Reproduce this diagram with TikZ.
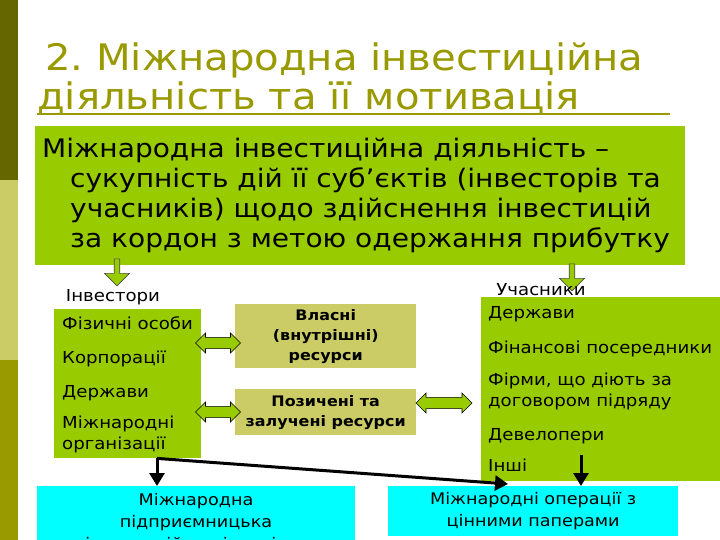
\documentclass[tikz,border=0pt]{standalone}
\usepackage{fontspec}
\setmainfont[FakeStretch=1.1]{DejaVu Sans}
\usepackage{tikz}
\usetikzlibrary{arrows.meta, positioning, calc, shapes.arrows}

\definecolor{bardark}{HTML}{666600}
\definecolor{barlight}{HTML}{CCCC66}
\definecolor{barolive}{HTML}{999900}
\definecolor{leaf}{HTML}{99CC00}
\definecolor{sand}{HTML}{CCCC66}
\definecolor{aqua}{HTML}{00FFFF}

\begin{document}
\begin{tikzpicture}[
  x=1pt, y=-1pt,
  > = {Triangle[width=15pt,length=13pt]},
  sandbox/.style = {fill=sand, minimum width=181pt, align=center, font=\fontsize{14.5}{20}\selectfont\bfseries},
  aquabox/.style = {fill=aqua, align=center, font=\fontsize{16}{22}\selectfont},
  listtext/.style = {anchor=north west, align=left, inner sep=0pt, font=\fontsize{16.5}{21}\selectfont},
  downarrow/.style = {single arrow, draw=black!70, fill=leaf, line width=0.6pt, shape border rotate=270,
    minimum height=27pt, minimum width=25pt, single arrow head extend=8pt, inner sep=2pt},
  twoway/.style = {double arrow, draw=black, fill=leaf, line width=0.6pt,
    minimum width=20pt, double arrow head extend=1pt, inner sep=1pt},
  thick arrow/.style = {->, line width=3pt}
  ]
  \useasboundingbox (0,0) rectangle (720,540);
  \clip (0,0) rectangle (720,540);
  % side bar
  \fill[bardark] (0,0) rectangle (18,180);
  \fill[barlight] (0,180) rectangle (18,360);
  \fill[barolive] (0,360) rectangle (18,540);
  % title
  \node[anchor=base west, text=barolive, font=\fontsize{36.5}{40}\selectfont, inner sep=0pt] (title1) at (45,71) {2.\ Міжнародна інвестиційна};
  \node[anchor=base west, text=barolive, font=\fontsize{36.5}{40}\selectfont, inner sep=0pt] (title2) at (37,110) {діяльність та її мотивація};
  \draw[barolive, line width=2pt] (title2.base west) ++(0,4) -- ++(633,0);

  \node[fill=leaf, anchor=north west, minimum width=650pt, minimum height=139pt, inner sep=0pt] (def) at (35,126) {};
  \node[anchor=north west, align=left, font=\fontsize{25.5}{30}\selectfont, inner sep=0pt] (deftext) at (42,138)
    {Міжнародна інвестиційна діяльність –\\
     \hspace*{28pt}сукупність дій її суб’єктів (інвесторів та\\
     \hspace*{28pt}учасників) щодо здійснення інвестицій\\
     \hspace*{28pt}за кордон з метою одержання прибутку};

  \node[downarrow] (dl) at (117,271) {};
  \node[downarrow] (dr) at (572,276) {};
  \node[font=\fontsize{16.5}{18}\selectfont] (invlabel) at (113,297) {Інвестори};
  \node[font=\fontsize{16.5}{18}\selectfont] (parlabel) at (541,290) {Учасники};

  % investors
  \node[fill=leaf, anchor=north west, minimum width=147pt, minimum height=149pt] (inv) at (54,309) {};
  \node[listtext] (invtext) at (62,316)
    {Фізичні особи\\[13pt]
     Корпорації\\[13pt]
     Держави\\[10pt]
     Міжнародні\\
     організації};

  % participants
  \node[fill=leaf, anchor=north west, minimum width=239pt, minimum height=184pt] (par) at (481,297) {};
  \node[listtext] (partext) at (488,306)
    {Держави\\[14pt]
     Фінансові посередники\\[11pt]
     Фірми, що діють за\\
     договором підряду\\[13pt]
     Девелопери\\[10pt]
     Інші};

  % resources
  \node[sandbox, anchor=north west, minimum height=64pt] (own) at (235,304) {Власні\\(внутрішні)\\ресурси};
  \node[sandbox, anchor=north west, minimum height=46pt] (loan) at (235,389) {Позичені та\\залучені ресурси};
  \node[twoway, minimum height=45pt] (ar1) at (218,343) {};
  \node[twoway, minimum height=45pt] (ar2) at (218,412) {};
  \node[twoway, minimum height=56pt] (ar3) at (444,403) {};

  % outcomes
  \node[aquabox, anchor=north west, minimum width=318pt, minimum height=60pt] (ent) at (37,486) {};
  \node[aquabox, anchor=north, inner sep=0pt] (enttext) at (196,493) {Міжнародна\\підприємницька\\інвестиційна діяльність};
  \node[aquabox, anchor=north west, minimum width=290pt, minimum height=50pt] (sec) at (388,486) {Міжнародні операції з\\цінними паперами};

  \coordinate (split) at ($(inv.south west)+(103,0)$);
  \coordinate (secin) at ($(sec.north west)+(120,-2)$);
  \coordinate (parout) at ($(par.south west)+(100,-26)$);
  \draw[thick arrow] (split) -- (split |- ent.north);
  \draw[thick arrow] (split) -- (secin);
  \draw[thick arrow] (parout) -- (parout |- sec.north);
\end{tikzpicture}
\end{document}
